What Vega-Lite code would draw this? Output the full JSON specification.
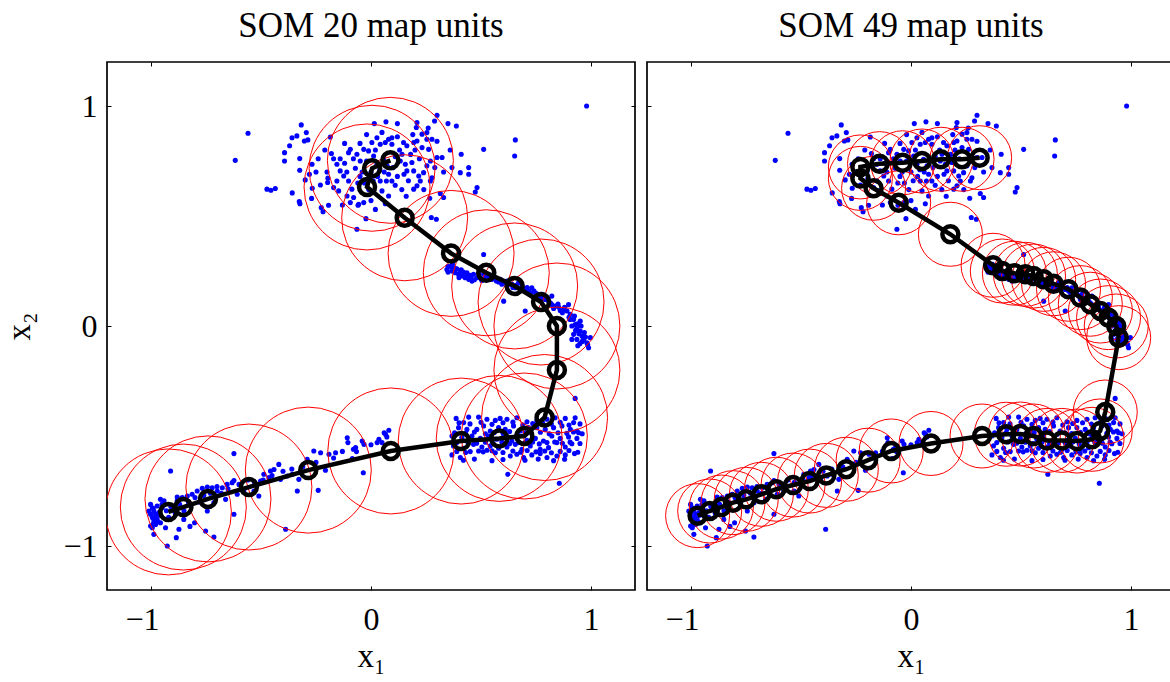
{
"$schema": "https://vega.github.io/schema/vega-lite/v6.json",
"background": "white",
"padding": {"left": 3, "top": 7, "right": 0, "bottom": 0},
"bounds": "flush",
"spacing": 12,
"config": {
 "view": {"stroke": "black", "strokeWidth": 1.7},
 "font": "Liberation Serif",
 "axis": {"grid": false, "domain": false, "tickSize": -4, "tickColor": "black", "tickWidth": 1, "labelFont": "Liberation Serif", "labelFontSize": 32, "labelColor": "black", "titleFont": "Liberation Serif", "titleFontSize": 33, "titleFontWeight": "normal", "titleColor": "black", "labelFlush": false},
 "title": {"font": "Liberation Serif", "fontSize": 35, "fontWeight": "normal", "color": "black"}
},
"datasets": {
"pts": [
{"x":-0.559,"y":0.876},{"x":-0.617,"y":0.753},{"x":-0.317,"y":0.914},{"x":-0.359,"y":0.856},{"x":-0.337,"y":0.864},{"x":-0.294,"y":0.879},{"x":-0.287,"y":0.846},{"x":-0.303,"y":0.841},{"x":-0.370,"y":0.819},{"x":-0.393,"y":0.788},{"x":-0.393,"y":0.750},{"x":-0.473,"y":0.622},{"x":-0.455,"y":0.617},{"x":-0.435,"y":0.625},{"x":-0.324,"y":0.761},{"x":-0.324,"y":0.708},{"x":-0.299,"y":0.664},{"x":-0.358,"y":0.605},{"x":-0.326,"y":0.566},{"x":-0.323,"y":0.556},{"x":-0.268,"y":0.735},{"x":-0.267,"y":0.626},{"x":-0.230,"y":0.641},{"x":-0.226,"y":0.538},{"x":-0.218,"y":0.519},{"x":-0.193,"y":0.549},{"x":-0.196,"y":0.672},{"x":-0.197,"y":0.652},{"x":-0.185,"y":0.859},{"x":-0.180,"y":0.784},{"x":-0.155,"y":0.735},{"x":-0.140,"y":0.705},{"x":-0.155,"y":0.659},{"x":-0.147,"y":0.614},{"x":-0.170,"y":0.629},{"x":-0.124,"y":0.682},{"x":-0.102,"y":0.788},{"x":-0.094,"y":0.803},{"x":-0.064,"y":0.781},{"x":-0.049,"y":0.750},{"x":-0.071,"y":0.717},{"x":-0.102,"y":0.659},{"x":-0.087,"y":0.622},{"x":-0.109,"y":0.591},{"x":-0.079,"y":0.584},{"x":-0.056,"y":0.553},{"x":-0.033,"y":0.561},{"x":-0.094,"y":0.561},{"x":-0.033,"y":0.803},{"x":-0.011,"y":0.796},{"x":0.004,"y":0.834},{"x":0.012,"y":0.773},{"x":0.027,"y":0.856},{"x":0.042,"y":0.826},{"x":0.065,"y":0.834},{"x":0.080,"y":0.849},{"x":0.095,"y":0.826},{"x":0.095,"y":0.856},{"x":0.057,"y":0.758},{"x":0.027,"y":0.735},{"x":0.073,"y":0.728},{"x":0.042,"y":0.659},{"x":0.070,"y":0.659},{"x":0.095,"y":0.659},{"x":0.080,"y":0.591},{"x":0.065,"y":0.556},{"x":0.050,"y":0.614},{"x":0.015,"y":0.920},{"x":0.068,"y":0.928},{"x":0.209,"y":0.925},{"x":0.206,"y":0.902},{"x":0.300,"y":0.958},{"x":0.289,"y":0.932},{"x":0.350,"y":0.920},{"x":0.388,"y":0.909},{"x":0.148,"y":0.834},{"x":0.163,"y":0.819},{"x":0.141,"y":0.781},{"x":0.156,"y":0.735},{"x":0.133,"y":0.750},{"x":0.186,"y":0.743},{"x":0.194,"y":0.705},{"x":0.163,"y":0.705},{"x":0.217,"y":0.682},{"x":0.224,"y":0.659},{"x":0.239,"y":0.697},{"x":0.254,"y":0.728},{"x":0.270,"y":0.750},{"x":0.300,"y":0.766},{"x":0.323,"y":0.766},{"x":0.368,"y":0.720},{"x":0.406,"y":0.697},{"x":0.444,"y":0.720},{"x":0.444,"y":0.690},{"x":0.482,"y":0.629},{"x":0.474,"y":0.609},{"x":0.410,"y":0.781},{"x":0.512,"y":0.803},{"x":0.194,"y":0.834},{"x":0.232,"y":0.872},{"x":0.254,"y":0.849},{"x":0.232,"y":0.811},{"x":0.262,"y":0.803},{"x":0.277,"y":0.849},{"x":0.254,"y":0.879},{"x":0.209,"y":0.841},{"x":0.194,"y":0.622},{"x":0.209,"y":0.637},{"x":0.270,"y":0.659},{"x":0.277,"y":0.674},{"x":0.267,"y":0.581},{"x":0.315,"y":0.602},{"x":0.330,"y":0.584},{"x":0.274,"y":0.493},{"x":0.297,"y":0.485},{"x":-0.023,"y":0.488},{"x":-0.064,"y":0.440},{"x":-0.059,"y":0.549},{"x":0.656,"y":0.846},{"x":0.653,"y":0.773},{"x":0.980,"y":1.000},
{"x":-0.05,"y":0.68},{"x":-0.03,"y":0.65},{"x":0.0,"y":0.70},{"x":-0.01,"y":0.62},{"x":0.03,"y":0.68},{"x":0.06,"y":0.70},{"x":0.10,"y":0.72},{"x":0.12,"y":0.68},{"x":-0.12,"y":0.74},{"x":-0.08,"y":0.76},{"x":-0.02,"y":0.75},{"x":0.02,"y":0.80},{"x":0.13,"y":0.80},{"x":0.11,"y":0.77},{"x":-0.20,"y":0.70},{"x":-0.25,"y":0.70},{"x":-0.17,"y":0.76},{"x":0.17,"y":0.66},{"x":0.14,"y":0.62},{"x":0.0,"y":0.57},
{"x":-0.14,"y":0.76},{"x":-0.11,"y":0.70},{"x":-0.06,"y":0.65},{"x":-0.04,"y":0.70},{"x":0.01,"y":0.66},{"x":0.04,"y":0.71},{"x":0.08,"y":0.69},{"x":0.11,"y":0.64},{"x":0.15,"y":0.69},{"x":0.18,"y":0.78},{"x":0.20,"y":0.80},{"x":0.22,"y":0.76},{"x":0.12,"y":0.86},{"x":0.05,"y":0.88},{"x":-0.05,"y":0.83},{"x":-0.12,"y":0.83},{"x":-0.21,"y":0.80},{"x":-0.24,"y":0.76},{"x":-0.28,"y":0.69},{"x":0.19,"y":0.87},{"x":0.24,"y":0.62},{"x":0.29,"y":0.72},{"x":0.33,"y":0.70},{"x":0.36,"y":0.80},{"x":0.30,"y":0.84},{"x":0.16,"y":0.59},{"x":0.02,"y":0.53},{"x":-0.13,"y":0.55},{"x":-0.27,"y":0.58},{"x":0.26,"y":0.90},{"x":0.12,"y":0.92},{"x":-0.02,"y":0.87},
{"x":0.345,"y":0.257},{"x":0.368,"y":0.250},{"x":0.383,"y":0.242},{"x":0.398,"y":0.235},{"x":0.413,"y":0.227},{"x":0.428,"y":0.219},{"x":0.444,"y":0.212},{"x":0.459,"y":0.204},{"x":0.375,"y":0.265},{"x":0.406,"y":0.250},{"x":0.436,"y":0.242},{"x":0.466,"y":0.235},{"x":0.481,"y":0.219},{"x":0.504,"y":0.207},{"x":0.512,"y":0.235},{"x":0.535,"y":0.227},{"x":0.550,"y":0.212},{"x":0.565,"y":0.219},{"x":0.588,"y":0.212},{"x":0.603,"y":0.197},{"x":0.618,"y":0.204},{"x":0.641,"y":0.189},{"x":0.656,"y":0.174},{"x":0.671,"y":0.197},{"x":0.686,"y":0.182},{"x":0.701,"y":0.166},{"x":0.716,"y":0.159},{"x":0.731,"y":0.174},{"x":0.747,"y":0.151},{"x":0.762,"y":0.136},{"x":0.777,"y":0.144},{"x":0.792,"y":0.121},{"x":0.807,"y":0.113},{"x":0.822,"y":0.098},{"x":0.838,"y":0.091},{"x":0.853,"y":0.086},{"x":0.875,"y":0.075},{"x":0.891,"y":0.068},{"x":0.906,"y":0.053},{"x":0.921,"y":0.030},{"x":0.928,"y":0.007},{"x":0.936,"y":-0.008},{"x":0.951,"y":-0.023},{"x":0.959,"y":-0.046},{"x":0.921,"y":-0.038},{"x":0.936,"y":-0.061},{"x":0.966,"y":-0.061},{"x":0.981,"y":-0.076},{"x":0.989,"y":-0.099},{"x":0.913,"y":-0.061},{"x":0.898,"y":0.098},{"x":0.822,"y":0.136},{"x":0.512,"y":0.325},{"x":0.603,"y":0.113},{"x":0.701,"y":0.068},{"x":0.997,"y":-0.053},{"x":0.951,"y":0.022},{"x":0.913,"y":0.0},
{"x":0.36,"y":0.27},{"x":0.39,"y":0.26},{"x":0.42,"y":0.245},{"x":0.45,"y":0.23},{"x":0.49,"y":0.225},{"x":0.52,"y":0.22},{"x":0.58,"y":0.20},{"x":0.62,"y":0.185},{"x":0.66,"y":0.185},{"x":0.69,"y":0.17},{"x":0.74,"y":0.16},{"x":0.78,"y":0.13},{"x":0.85,"y":0.10},{"x":0.87,"y":0.06},{"x":0.90,"y":0.04},{"x":0.94,"y":0.01},{"x":0.95,"y":-0.08},{"x":0.97,"y":-0.03},{"x":0.35,"y":0.245},{"x":0.40,"y":0.22},
{"x":0.35,"y":0.27},{"x":0.37,"y":0.28},{"x":0.385,"y":0.26},{"x":0.41,"y":0.255},{"x":0.43,"y":0.23},{"x":0.455,"y":0.225},{"x":0.47,"y":0.21},{"x":0.49,"y":0.24},{"x":0.50,"y":0.215},{"x":0.525,"y":0.21},{"x":0.54,"y":0.225},{"x":0.57,"y":0.205},{"x":0.595,"y":0.19},{"x":0.63,"y":0.19},{"x":0.645,"y":0.175},{"x":0.68,"y":0.165},{"x":0.71,"y":0.175},{"x":0.725,"y":0.15},{"x":0.755,"y":0.145},{"x":0.77,"y":0.12},{"x":0.80,"y":0.125},{"x":0.815,"y":0.105},{"x":0.83,"y":0.08},{"x":0.86,"y":0.07},{"x":0.88,"y":0.085},{"x":0.905,"y":0.03},{"x":0.925,"y":0.045},{"x":0.93,"y":-0.02},{"x":0.945,"y":-0.035},{"x":0.96,"y":-0.07},{"x":0.975,"y":-0.05},{"x":0.985,"y":-0.085},{"x":0.94,"y":-0.09},{"x":0.955,"y":0.0},
{"x":0.387,"y":-0.420},{"x":0.421,"y":-0.439},{"x":0.444,"y":-0.414},{"x":0.489,"y":-0.414},{"x":0.527,"y":-0.424},{"x":0.565,"y":-0.429},{"x":0.587,"y":-0.420},{"x":0.618,"y":-0.424},{"x":0.663,"y":-0.417},{"x":0.709,"y":-0.435},{"x":0.754,"y":-0.429},{"x":0.800,"y":-0.424},{"x":0.837,"y":-0.417},{"x":0.883,"y":-0.420},{"x":0.928,"y":-0.417},
{"x":0.398,"y":-0.462},{"x":0.436,"y":-0.470},{"x":0.481,"y":-0.470},{"x":0.512,"y":-0.454},{"x":0.542,"y":-0.477},{"x":0.580,"y":-0.462},{"x":0.610,"y":-0.470},{"x":0.648,"y":-0.454},{"x":0.678,"y":-0.477},{"x":0.716,"y":-0.462},{"x":0.754,"y":-0.462},{"x":0.792,"y":-0.470},{"x":0.830,"y":-0.462},{"x":0.868,"y":-0.454},{"x":0.906,"y":-0.470},{"x":0.936,"y":-0.477},
{"x":0.368,"y":-0.500},{"x":0.413,"y":-0.507},{"x":0.459,"y":-0.500},{"x":0.497,"y":-0.511},{"x":0.534,"y":-0.500},{"x":0.572,"y":-0.515},{"x":0.603,"y":-0.504},{"x":0.640,"y":-0.523},{"x":0.671,"y":-0.530},{"x":0.709,"y":-0.520},{"x":0.747,"y":-0.511},{"x":0.784,"y":-0.523},{"x":0.822,"y":-0.500},{"x":0.860,"y":-0.511},{"x":0.898,"y":-0.504},{"x":0.936,"y":-0.511},
{"x":0.375,"y":-0.545},{"x":0.421,"y":-0.556},{"x":0.466,"y":-0.538},{"x":0.504,"y":-0.550},{"x":0.542,"y":-0.545},{"x":0.580,"y":-0.556},{"x":0.618,"y":-0.550},{"x":0.656,"y":-0.538},{"x":0.686,"y":-0.561},{"x":0.724,"y":-0.545},{"x":0.769,"y":-0.561},{"x":0.807,"y":-0.553},{"x":0.845,"y":-0.530},{"x":0.883,"y":-0.550},{"x":0.913,"y":-0.535},
{"x":0.368,"y":-0.586},{"x":0.406,"y":-0.598},{"x":0.451,"y":-0.571},{"x":0.489,"y":-0.568},{"x":0.527,"y":-0.565},{"x":0.565,"y":-0.576},{"x":0.633,"y":-0.591},{"x":0.663,"y":-0.583},{"x":0.694,"y":-0.598},{"x":0.731,"y":-0.586},{"x":0.769,"y":-0.580},{"x":0.800,"y":-0.598},{"x":0.845,"y":-0.591},{"x":0.883,"y":-0.586},{"x":0.925,"y":-0.580},
{"x":0.40,"y":-0.44},{"x":0.45,"y":-0.445},{"x":0.50,"y":-0.438},{"x":0.55,"y":-0.447},{"x":0.60,"y":-0.44},{"x":0.645,"y":-0.437},{"x":0.69,"y":-0.45},{"x":0.735,"y":-0.443},{"x":0.78,"y":-0.44},{"x":0.82,"y":-0.446},{"x":0.86,"y":-0.438},{"x":0.90,"y":-0.45},{"x":0.95,"y":-0.445},
{"x":0.38,"y":-0.485},{"x":0.43,"y":-0.488},{"x":0.47,"y":-0.482},{"x":0.52,"y":-0.49},{"x":0.56,"y":-0.484},{"x":0.60,"y":-0.487},{"x":0.63,"y":-0.48},{"x":0.665,"y":-0.492},{"x":0.70,"y":-0.485},{"x":0.73,"y":-0.489},{"x":0.77,"y":-0.483},{"x":0.81,"y":-0.49},{"x":0.85,"y":-0.485},{"x":0.89,"y":-0.488},{"x":0.92,"y":-0.482},{"x":0.96,"y":-0.49},
{"x":0.39,"y":-0.53},{"x":0.44,"y":-0.527},{"x":0.48,"y":-0.533},{"x":0.52,"y":-0.528},{"x":0.555,"y":-0.534},{"x":0.595,"y":-0.528},{"x":0.63,"y":-0.535},{"x":0.70,"y":-0.53},{"x":0.735,"y":-0.527},{"x":0.765,"y":-0.536},{"x":0.80,"y":-0.53},{"x":0.835,"y":-0.527},{"x":0.87,"y":-0.533},{"x":0.905,"y":-0.528},{"x":0.95,"y":-0.534},
{"x":0.39,"y":-0.57},{"x":0.43,"y":-0.575},{"x":0.51,"y":-0.572},{"x":0.55,"y":-0.567},{"x":0.60,"y":-0.575},{"x":0.645,"y":-0.568},{"x":0.68,"y":-0.574},{"x":0.71,"y":-0.566},{"x":0.75,"y":-0.572},{"x":0.79,"y":-0.568},{"x":0.82,"y":-0.576},{"x":0.86,"y":-0.57},{"x":0.90,"y":-0.566},{"x":0.94,"y":-0.574},
{"x":0.42,"y":-0.61},{"x":0.47,"y":-0.605},{"x":0.55,"y":-0.612},{"x":0.60,"y":-0.607},{"x":0.70,"y":-0.61},{"x":0.76,"y":-0.605},{"x":0.83,"y":-0.612},{"x":0.88,"y":-0.606},
{"x":0.928,"y":-0.329},{"x":0.622,"y":-0.674},{"x":0.856,"y":-0.715},{"x":0.921,"y":-0.439},{"x":0.944,"y":-0.485},
{"x":-1.002,"y":-0.811},{"x":-0.994,"y":-0.826},{"x":-0.987,"y":-0.841},{"x":-1.002,"y":-0.856},{"x":-0.994,"y":-0.871},{"x":-0.987,"y":-0.886},{"x":-0.979,"y":-0.902},{"x":-0.994,"y":-0.917},{"x":-0.972,"y":-0.818},{"x":-0.964,"y":-0.848},{"x":-0.972,"y":-0.879},{"x":-0.957,"y":-0.894},{"x":-0.949,"y":-0.826},{"x":-0.941,"y":-0.795},{"x":-0.934,"y":-0.917},{"x":-0.987,"y":-0.947},{"x":-1.002,"y":-0.909},{"x":-0.979,"y":-0.856},{"x":-1.010,"y":-0.841},{"x":-0.957,"y":-0.788},
{"x":-0.99,"y":-0.83},{"x":-0.98,"y":-0.87},{"x":-0.97,"y":-0.89},{"x":-0.96,"y":-0.86},{"x":-0.99,"y":-0.90},{"x":-0.95,"y":-0.81},{"x":-0.93,"y":-0.84},{"x":-0.92,"y":-0.87},{"x":-0.91,"y":-0.82},{"x":-0.89,"y":-0.85},{"x":-0.87,"y":-0.81},{"x":-0.85,"y":-0.84},{"x":-0.83,"y":-0.80},{"x":-0.80,"y":-0.78},{"x":-0.78,"y":-0.80},{"x":-0.76,"y":-0.77},{"x":-0.73,"y":-0.76},{"x":-0.70,"y":-0.73},{"x":-0.68,"y":-0.76},{"x":-0.65,"y":-0.74},{"x":-0.60,"y":-0.72},{"x":-0.56,"y":-0.70},{"x":-0.53,"y":-0.71},{"x":-0.49,"y":-0.70},{"x":-0.45,"y":-0.68},{"x":-0.40,"y":-0.66},{"x":-0.36,"y":-0.65},{"x":-0.31,"y":-0.64},{"x":-0.25,"y":-0.62},{"x":-0.17,"y":-0.60},{"x":-0.13,"y":-0.57},{"x":-0.08,"y":-0.56},{"x":0.0,"y":-0.54},{"x":0.05,"y":-0.53},
{"x":-0.911,"y":-0.659},{"x":-0.926,"y":-1.000},{"x":-0.885,"y":-0.962},{"x":-0.873,"y":-0.924},{"x":-0.823,"y":-0.911},{"x":-0.802,"y":-0.894},{"x":-0.851,"y":-0.879},{"x":-0.896,"y":-0.826},{"x":-0.881,"y":-0.795},{"x":-0.858,"y":-0.780},{"x":-0.835,"y":-0.773},{"x":-0.813,"y":-0.765},{"x":-0.790,"y":-0.750},{"x":-0.767,"y":-0.738},{"x":-0.744,"y":-0.732},{"x":-0.722,"y":-0.735},{"x":-0.699,"y":-0.750},{"x":-0.676,"y":-0.735},{"x":-0.654,"y":-0.720},{"x":-0.631,"y":-0.712},{"x":-0.623,"y":-0.702},{"x":-0.714,"y":-0.803},{"x":-0.744,"y":-0.841},{"x":-0.752,"y":-0.932},{"x":-0.714,"y":-0.959},{"x":-0.623,"y":-0.580},{"x":-0.623,"y":-0.856},{"x":-0.661,"y":-0.788},{"x":-0.608,"y":-0.765},{"x":-0.578,"y":-0.750},{"x":-0.532,"y":-0.750},{"x":-0.510,"y":-0.773},{"x":-0.487,"y":-0.674},{"x":-0.457,"y":-0.659},{"x":-0.441,"y":-0.652},{"x":-0.419,"y":-0.629},{"x":-0.464,"y":-0.689},{"x":-0.502,"y":-0.705},{"x":-0.411,"y":-0.697},{"x":-0.381,"y":-0.682},{"x":-0.358,"y":-0.674},{"x":-0.328,"y":-0.697},{"x":-0.335,"y":-0.750},{"x":-0.388,"y":-0.924},{"x":-0.290,"y":-0.606},{"x":-0.260,"y":-0.568},{"x":-0.229,"y":-0.576},{"x":-0.191,"y":-0.583},{"x":-0.161,"y":-0.576},{"x":-0.240,"y":-0.747},{"x":-0.207,"y":-0.656},{"x":-0.108,"y":-0.508},{"x":-0.105,"y":-0.530},{"x":-0.070,"y":-0.553},{"x":-0.066,"y":-0.571},{"x":-0.032,"y":-0.538},{"x":-0.040,"y":-0.523},{"x":-0.035,"y":-0.667},{"x":0.028,"y":-0.530},{"x":0.036,"y":-0.515},{"x":0.066,"y":-0.492},{"x":0.081,"y":-0.474},{"x":-0.085,"y":-0.602},{"x":-0.881,"y":-0.777},{"x":0.060,"y":-0.485},{"x":0.072,"y":-0.504}
],
"n20": [
{"i":1,"x":0.088,"y":0.753},{"i":2,"x":0.005,"y":0.717},{"i":3,"x":-0.018,"y":0.632},{"i":4,"x":0.153,"y":0.492},{"i":5,"x":0.364,"y":0.330},{"i":6,"x":0.524,"y":0.242},{"i":7,"x":0.653,"y":0.182},{"i":8,"x":0.773,"y":0.109},{"i":9,"x":0.845,"y":0.0},{"i":10,"x":0.845,"y":-0.2},{"i":11,"x":0.789,"y":-0.416},{"i":12,"x":0.697,"y":-0.5},{"i":13,"x":0.583,"y":-0.511},{"i":14,"x":0.41,"y":-0.523},{"i":15,"x":0.09,"y":-0.568},{"i":16,"x":-0.285,"y":-0.655},{"i":17,"x":-0.555,"y":-0.732},{"i":18,"x":-0.741,"y":-0.786},{"i":19,"x":-0.853,"y":-0.823},{"i":20,"x":-0.921,"y":-0.845}
],
"n49": [
{"i":1,"x":0.312,"y":0.765},{"i":2,"x":0.232,"y":0.758},{"i":3,"x":0.136,"y":0.758},{"i":4,"x":0.050,"y":0.750},{"i":5,"x":-0.038,"y":0.742},{"i":6,"x":-0.143,"y":0.738},{"i":7,"x":-0.230,"y":0.723},{"i":8,"x":-0.230,"y":0.671},{"i":9,"x":-0.170,"y":0.626},{"i":10,"x":-0.056,"y":0.560},{"i":11,"x":0.179,"y":0.417},{"i":12,"x":0.373,"y":0.276},{"i":13,"x":0.415,"y":0.250},{"i":14,"x":0.470,"y":0.240},{"i":15,"x":0.520,"y":0.235},{"i":16,"x":0.557,"y":0.227},{"i":17,"x":0.603,"y":0.212},{"i":18,"x":0.648,"y":0.192},{"i":19,"x":0.716,"y":0.167},{"i":20,"x":0.770,"y":0.129},{"i":21,"x":0.815,"y":0.099},{"i":22,"x":0.861,"y":0.068},{"i":23,"x":0.898,"y":0.038},{"i":24,"x":0.933,"y":0.000},{"i":25,"x":0.944,"y":-0.053},{"i":26,"x":0.883,"y":-0.391},{"i":27,"x":0.860,"y":-0.477},{"i":28,"x":0.823,"y":-0.515},{"i":29,"x":0.755,"y":-0.523},{"i":30,"x":0.686,"y":-0.520},{"i":31,"x":0.618,"y":-0.520},{"i":32,"x":0.557,"y":-0.500},{"i":33,"x":0.497,"y":-0.491},{"i":34,"x":0.433,"y":-0.492},{"i":35,"x":0.323,"y":-0.500},{"i":36,"x":0.091,"y":-0.534},{"i":37,"x":-0.090,"y":-0.568},{"i":38,"x":-0.195,"y":-0.610},{"i":39,"x":-0.294,"y":-0.651},{"i":40,"x":-0.385,"y":-0.679},{"i":41,"x":-0.461,"y":-0.705},{"i":42,"x":-0.536,"y":-0.723},{"i":43,"x":-0.612,"y":-0.742},{"i":44,"x":-0.680,"y":-0.765},{"i":45,"x":-0.749,"y":-0.788},{"i":46,"x":-0.809,"y":-0.803},{"i":47,"x":-0.862,"y":-0.823},{"i":48,"x":-0.915,"y":-0.841},{"i":49,"x":-0.970,"y":-0.862}
]
},
"hconcat": [
{
 "width": 528, "height": 528,
 "title": {"text": "SOM 20 map units", "offset": 18},
 "resolve": {"axis": {"x": "independent", "y": "independent"}},
 "layer": [
  {"data": {"name": "pts"}, "mark": {"type": "point", "shape": "circle", "filled": true, "size": 26, "color": "#0000ff", "opacity": 1, "clip": true},
   "encoding": {
    "x": {"field": "x", "type": "quantitative", "scale": {"domain": [-1.2, 1.2], "nice": false, "zero": false}, "axis": {"orient": "bottom", "values": [-1, 0, 1], "title": "x₁", "labelPadding": 18, "titlePadding": 5, "labelOffset": {"condition": {"test": "datum.value < 0", "value": -9}, "value": 0}}},
    "y": {"field": "y", "type": "quantitative", "scale": {"domain": [-1.2, 1.2], "nice": false, "zero": false}, "axis": {"orient": "left", "values": [-1, 0, 1], "title": "x₂", "labelPadding": 14, "titlePadding": 26}}}},
  {"data": {"name": "n20"}, "mark": {"type": "point", "shape": "circle", "filled": false, "size": 15876, "color": "#ff0000", "strokeWidth": 1, "opacity": 1, "clip": true},
   "encoding": {
    "x": {"field": "x", "type": "quantitative", "scale": {"domain": [-1.2, 1.2], "nice": false, "zero": false}, "axis": null},
    "y": {"field": "y", "type": "quantitative", "scale": {"domain": [-1.2, 1.2], "nice": false, "zero": false}, "axis": null}}},
  {"data": {"name": "n20"}, "mark": {"type": "line", "color": "black", "strokeWidth": 4.5, "clip": true},
   "encoding": {
    "x": {"field": "x", "type": "quantitative", "scale": {"domain": [-1.2, 1.2], "nice": false, "zero": false}, "axis": {"orient": "top", "values": [-1, 0, 1], "labels": false, "title": null}},
    "y": {"field": "y", "type": "quantitative", "scale": {"domain": [-1.2, 1.2], "nice": false, "zero": false}, "axis": {"orient": "right", "values": [-1, 0, 1], "labels": false, "title": null}},
    "order": {"field": "i", "type": "quantitative"}}},
  {"data": {"name": "n20"}, "mark": {"type": "point", "shape": "circle", "filled": false, "size": 256, "color": "black", "strokeWidth": 4.5, "opacity": 1, "clip": true},
   "encoding": {
    "x": {"field": "x", "type": "quantitative", "scale": {"domain": [-1.2, 1.2], "nice": false, "zero": false}, "axis": null},
    "y": {"field": "y", "type": "quantitative", "scale": {"domain": [-1.2, 1.2], "nice": false, "zero": false}, "axis": null}}}
 ]
},
{
 "width": 528, "height": 528,
 "title": {"text": "SOM 49 map units", "offset": 18},
 "resolve": {"axis": {"x": "independent", "y": "independent"}},
 "layer": [
  {"data": {"name": "pts"}, "mark": {"type": "point", "shape": "circle", "filled": true, "size": 26, "color": "#0000ff", "opacity": 1, "clip": true},
   "encoding": {
    "x": {"field": "x", "type": "quantitative", "scale": {"domain": [-1.2, 1.2], "nice": false, "zero": false}, "axis": {"orient": "bottom", "values": [-1, 0, 1], "title": "x₁", "labelPadding": 18, "titlePadding": 5, "labelOffset": {"condition": {"test": "datum.value < 0", "value": -9}, "value": 0}}},
    "y": {"field": "y", "type": "quantitative", "scale": {"domain": [-1.2, 1.2], "nice": false, "zero": false}, "axis": {"orient": "left", "values": [-1, 0, 1], "labels": false, "title": null}}}},
  {"data": {"name": "n49"}, "mark": {"type": "point", "shape": "circle", "filled": false, "size": 4096, "color": "#ff0000", "strokeWidth": 1, "opacity": 1, "clip": true},
   "encoding": {
    "x": {"field": "x", "type": "quantitative", "scale": {"domain": [-1.2, 1.2], "nice": false, "zero": false}, "axis": null},
    "y": {"field": "y", "type": "quantitative", "scale": {"domain": [-1.2, 1.2], "nice": false, "zero": false}, "axis": null}}},
  {"data": {"name": "n49"}, "mark": {"type": "line", "color": "black", "strokeWidth": 4.5, "clip": true},
   "encoding": {
    "x": {"field": "x", "type": "quantitative", "scale": {"domain": [-1.2, 1.2], "nice": false, "zero": false}, "axis": {"orient": "top", "values": [-1, 0, 1], "labels": false, "title": null}},
    "y": {"field": "y", "type": "quantitative", "scale": {"domain": [-1.2, 1.2], "nice": false, "zero": false}, "axis": {"orient": "right", "values": [-1, 0, 1], "labels": false, "title": null}},
    "order": {"field": "i", "type": "quantitative"}}},
  {"data": {"name": "n49"}, "mark": {"type": "point", "shape": "circle", "filled": false, "size": 256, "color": "black", "strokeWidth": 4.5, "opacity": 1, "clip": true},
   "encoding": {
    "x": {"field": "x", "type": "quantitative", "scale": {"domain": [-1.2, 1.2], "nice": false, "zero": false}, "axis": null},
    "y": {"field": "y", "type": "quantitative", "scale": {"domain": [-1.2, 1.2], "nice": false, "zero": false}, "axis": null}}}
 ]
}
]
}
